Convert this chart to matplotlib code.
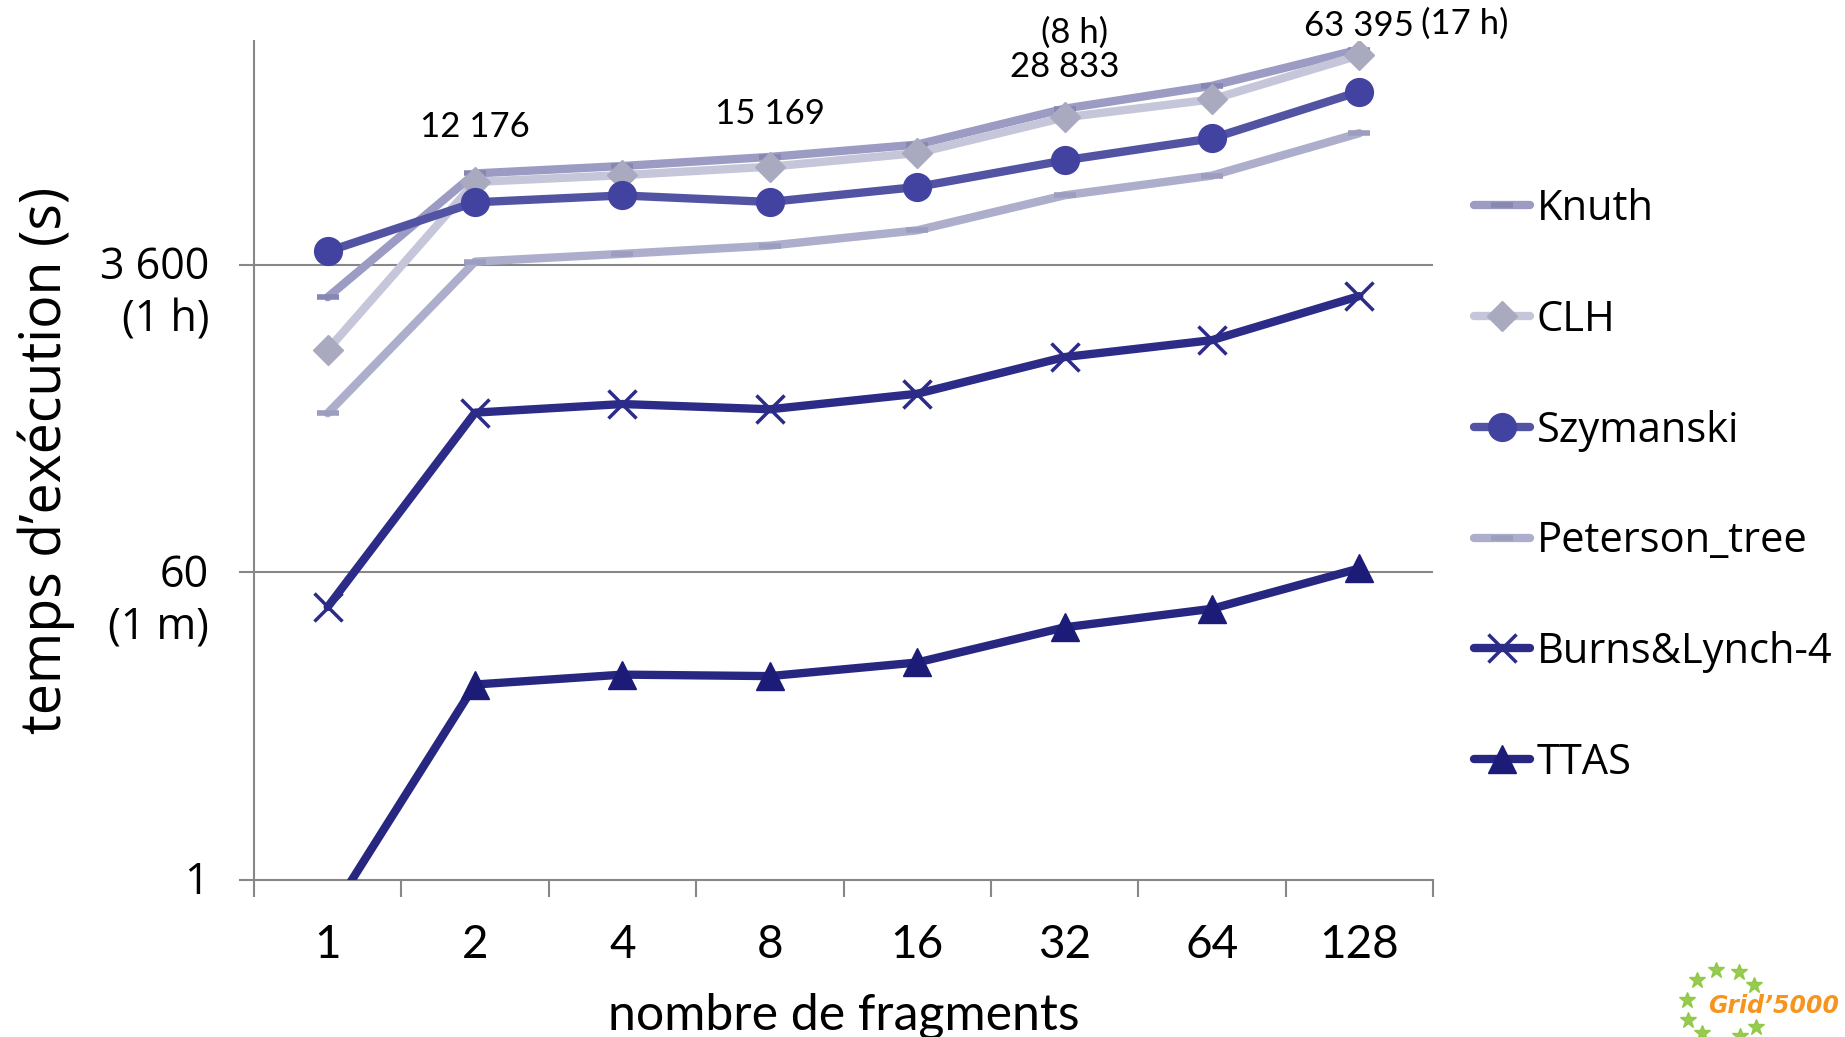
import matplotlib
matplotlib.use("Agg")
from matplotlib import pyplot as plt

# nombre de fragments
fragments = ["1", "2", "4", "8", "16", "32", "64", "128"]

# temps d'execution (s)
knuth = [2343, 12176, 13440, 15169, 17870, 28833, 39100, 63395]
clh = [1164, 10870, 11900, 13320, 15960, 25670, 32640, 58700]
szymanski = [4310, 8290, 9080, 8330, 10170, 14490, 19420, 36200]
peterson_tree = [500, 3763, 4174, 4657, 5710, 9100, 11830, 20800]
burns_lynch4 = [37.9, 504, 565, 527, 648, 1056, 1323, 2378]
ttas = [0.6, 13.5, 15.4, 15.1, 18.1, 28.9, 37.0, 63.3]

series_names = ["Knuth", "CLH", "Szymanski", "Peterson_tree", "Burns&Lynch-4", "TTAS"]

ytick_vals = [1, 60, 3600]
ytick_txt = ["1", "60\n(1 m)", "3 600\n(1 h)"]

NARROW = ["Liberation Sans Narrow", "Lato", "DejaVu Sans"]
WIDE = ["Open Sans", "DejaVu Sans"]
GRAY = "#878787"

fig = plt.figure(figsize=(18.45, 10.37), dpi=100)
ax = fig.add_axes([254 / 1845, 157 / 1037, 1179 / 1845, 839 / 1037])

x = list(range(len(fragments)))

styles = [
    (knuth, dict(color="#9b9bc3", marker="_", ms=16, mew=4, mec="#8787b3")),
    (clh, dict(color="#c6c6da", marker="D", ms=15, mfc="#a9a9bf", mec="#a9a9bf")),
    (szymanski, dict(color="#5353a4", marker="o", ms=20, mfc="#4242a0", mec="#4242a0")),
    (peterson_tree, dict(color="#adadcc", marker="_", ms=16, mew=4, mec="#9d9dc0")),
    (burns_lynch4, dict(color="#2c2c88", marker="x", ms=20, mew=2.5, mec="#2c2c88")),
    (ttas, dict(color="#272782", marker="^", ms=20, mfc="#1c1c78", mec="#1c1c78")),
]

handles = []
for (vals, st), name in zip(styles, series_names):
    ln, = ax.plot(x, vals, lw=6, solid_capstyle="round", label=name, zorder=3, **st)
    handles.append(ln)

ax.set_yscale("log")
ax.set_ylim(1, 71000)
ax.set_xlim(-0.5, 7.5)

# grille
for v in ytick_vals[1:]:
    ax.axhline(v, color=GRAY, lw=1.5, zorder=1)

ax.set_yticks(ytick_vals)
ax.set_yticklabels([])
ax.yaxis.set_minor_locator(matplotlib.ticker.NullLocator())
ax.tick_params(axis="y", which="major", length=11, width=1.5, color=GRAY, direction="out")

for v, t in zip(ytick_vals, ytick_txt):
    ax.annotate(t, xy=(0, v), xycoords=("axes fraction", "data"),
                xytext=(-45, 19), textcoords="offset pixels",
                ha="right", va="top", multialignment="right",
                fontsize=31, family=WIDE, linespacing=1.22)

ax.set_xticks(x)
ax.set_xticklabels(fragments, fontsize=33, family=NARROW)
ax.set_xticks([i - 0.5 for i in range(len(fragments) + 1)], minor=True)
ax.tick_params(axis="x", which="major", length=0, pad=32)
ax.tick_params(axis="x", which="minor", length=12, width=1.5, color=GRAY, direction="out")

for s in ["top", "right"]:
    ax.spines[s].set_visible(False)
for s in ["left", "bottom"]:
    ax.spines[s].set_color(GRAY)
    ax.spines[s].set_linewidth(1.5)

ax.set_xlabel("nombre de fragments", fontsize=36, family=NARROW, labelpad=19)
ax.set_ylabel("temps d\u2019ex\u00e9cution (s)", fontsize=40, family=WIDE)
ax.yaxis.set_label_coords(-0.152, 0.5)

# etiquettes de Knuth
ann = dict(textcoords="offset pixels", ha="center", va="center",
           fontsize=25, family=NARROW, annotation_clip=False)
ax.annotate("12 176", xy=(1, knuth[1]), xytext=(0, 46), **ann)
ax.annotate("15 169", xy=(3, knuth[3]), xytext=(0, 43), **ann)
ax.annotate("28 833", xy=(5, knuth[5]), xytext=(0, 42), **ann)
ax.annotate("(8 h)", xy=(5, knuth[5]), xytext=(10, 76), **ann)
ax.annotate("63 395", xy=(7, knuth[7]), xytext=(0, 24), **ann)
ann["ha"] = "left"
ax.annotate("(17 h)", xy=(7, knuth[7]), xytext=(62, 26), **ann)

fig.legend(handles=handles, labels=series_names, loc="upper left",
           bbox_to_anchor=(1474 / 1845, 1 - 188 / 1037), frameon=False,
           prop={"family": WIDE, "size": 30}, handlelength=1.35,
           handletextpad=0.15, labelspacing=1.65, borderpad=0, borderaxespad=0)

# logo Grid'5000
logo = fig.add_axes([0, 0, 1, 1])
logo.set_axis_off()
logo.set_xlim(0, 1845)
logo.set_ylim(1037, 0)
stars = [(1716, 970), (1739, 972), (1697, 980), (1754, 985), (1687, 1000),
         (1688, 1020), (1756, 1027), (1702, 1033), (1740, 1036)]
logo.plot([p[0] for p in stars], [p[1] for p in stars], ls="none", marker="*",
          ms=12, color="#8dc63f", alpha=0.9)
logo.text(1708, 1006, "Grid\u20195000", color="#f7941d", fontsize=17,
          fontweight="bold", style="italic", va="center", ha="left")

fig.savefig("out.png", dpi=100)
